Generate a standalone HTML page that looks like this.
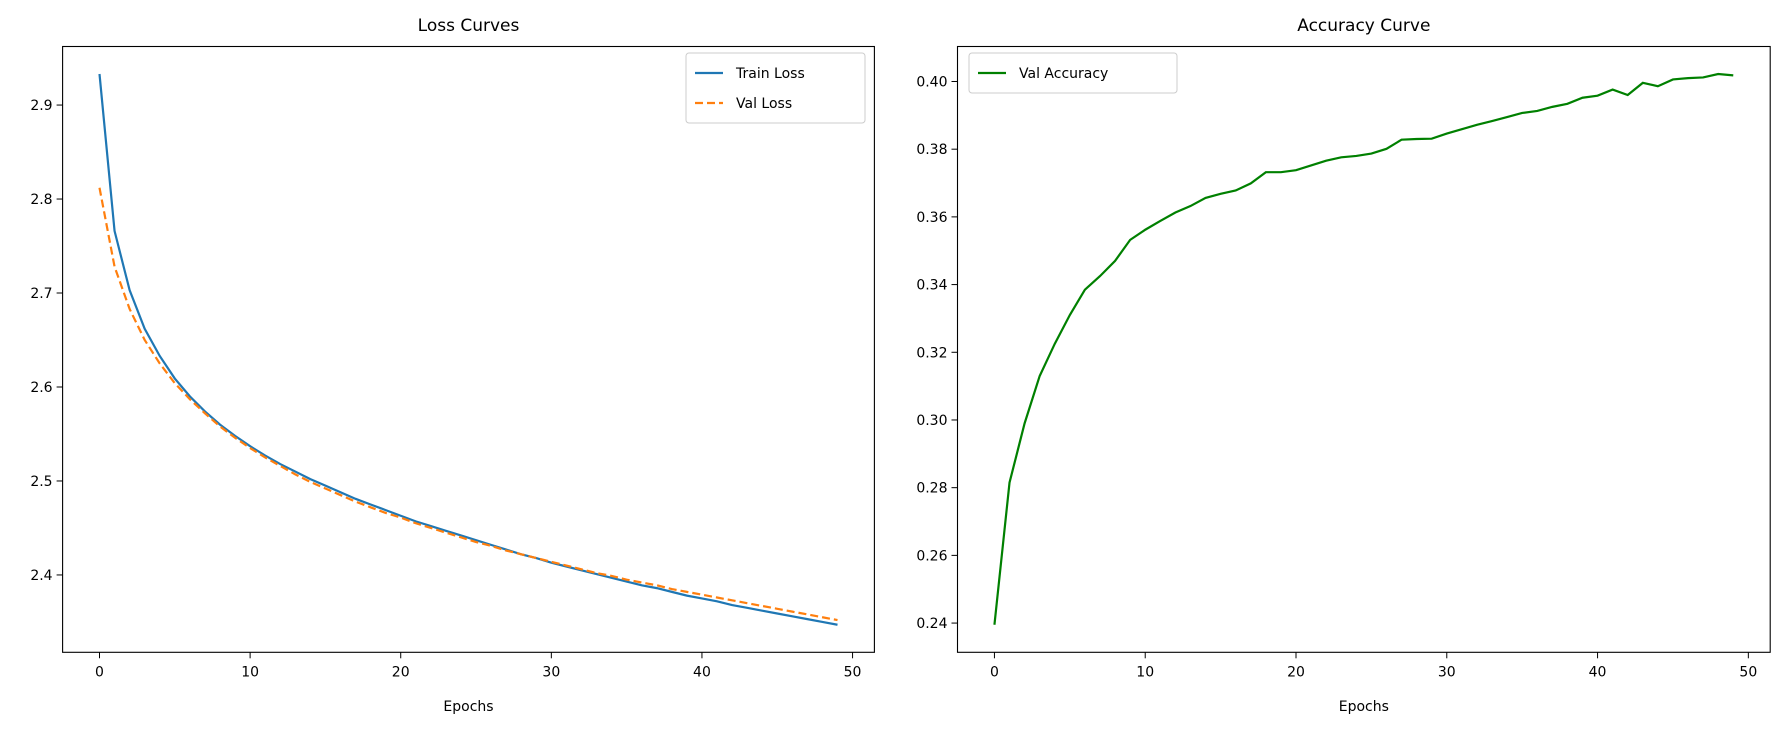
<!DOCTYPE html>
<html><head><meta charset="utf-8"><style>
body{margin:0;background:#fff;font-family:"Liberation Sans","DejaVu Sans",sans-serif}
svg text{font-family:"DejaVu Sans","Liberation Sans",sans-serif;fill:#000}
</style></head><body>
<svg id="fig" width="1785" height="731" xmlns="http://www.w3.org/2000/svg"></svg>
<script>
const epochs = Array.from({length:50},(_,i)=>i);
const trainLoss=[2.933,2.766,2.703,2.662,2.633,2.609,2.590,2.574,2.560,2.548,2.537,2.527,2.518,2.510,2.502,2.495,2.488,2.481,2.475,2.469,2.463,2.457,2.452,2.447,2.442,2.437,2.432,2.427,2.422,2.418,2.413,2.409,2.405,2.401,2.397,2.393,2.389,2.386,2.382,2.378,2.375,2.372,2.368,2.365,2.362,2.359,2.356,2.353,2.350,2.347];
const valLoss=[2.812,2.728,2.683,2.650,2.625,2.604,2.587,2.572,2.558,2.546,2.535,2.525,2.516,2.507,2.499,2.492,2.485,2.478,2.472,2.466,2.461,2.455,2.450,2.445,2.440,2.435,2.431,2.426,2.422,2.418,2.414,2.410,2.406,2.402,2.399,2.395,2.392,2.389,2.385,2.382,2.379,2.376,2.373,2.370,2.367,2.364,2.361,2.358,2.355,2.352];
const valAcc=[0.2395,0.2815,0.299,0.313,0.3225,0.331,0.3385,0.3425,0.347,0.3532,0.3562,0.3588,0.3613,0.3632,0.3656,0.3668,0.3678,0.3699,0.3732,0.3732,0.3738,0.3752,0.3766,0.3776,0.378,0.3787,0.3801,0.3828,0.383,0.3831,0.3846,0.3859,0.3872,0.3883,0.3895,0.3907,0.3913,0.3925,0.3934,0.3952,0.3958,0.3976,0.396,0.3996,0.3986,0.4006,0.401,0.4012,0.4022,0.4018];
const xTicks=[0,10,20,30,40,50];
const lossTicks=[2.4,2.5,2.6,2.7,2.8,2.9];
const accTicks=[0.24,0.26,0.28,0.30,0.32,0.34,0.36,0.38,0.40];

const NS="http://www.w3.org/2000/svg";
const svg=document.getElementById('fig');
function mk(tag,attrs,parent){const e=document.createElementNS(NS,tag);for(const k in attrs)e.setAttribute(k,attrs[k]);(parent||svg).appendChild(e);return e;}
function lim(arrs){const all=[].concat(...arrs);const mn=Math.min(...all),mx=Math.max(...all),m=(mx-mn)*0.05;return [mn-m,mx+m];}

function panel(L,R,T,B,title,series,yTicks,yDec,name){
  const g=mk('g',{});
  
  
  const [y0,y1]=lim(series.map(s=>s.data));
  const x0=-2.45,x1=51.45;
  const sx=v=>L+(v-x0)/(x1-x0)*(R-L);
  const sy=v=>B-(v-y0)/(y1-y0)*(B-T);
  xTicks.forEach(t=>{
    const tk=mk('line',{x1:sx(t),x2:sx(t),y1:B,y2:B+6,stroke:'#000','stroke-width':1},g);
    
    
    const lb=mk('text',{x:sx(t),y:B+24,'text-anchor':'middle','font-size':14},g);
    lb.textContent=t;
    
    
  });
  yTicks.forEach(t=>{
    const tk=mk('line',{x1:L-6,x2:L,y1:sy(t),y2:sy(t),stroke:'#000','stroke-width':1},g);
    
    
    const lb=mk('text',{x:L-10,y:sy(t)+5,'text-anchor':'end','font-size':14},g);
    lb.textContent=t.toFixed(yDec);
    
    
  });
  series.forEach(s=>{
    const p=mk('polyline',{points:s.data.map((v,i)=>sx(epochs[i])+','+sy(v)).join(' '),fill:'none',stroke:s.color,'stroke-width':2.2,'stroke-dasharray':s.dash||'none'},g);
    
    
  });
  const fr=mk('rect',{x:L,y:T,width:R-L,height:B-T,fill:'none',stroke:'#000','stroke-width':1.1},g);
  
  
  const tt=mk('text',{x:(L+R)/2,y:31,'text-anchor':'middle','font-size':17},g);
  tt.textContent=title;
  
  
  const xl=mk('text',{x:(L+R)/2,y:711,'text-anchor':'middle','font-size':14},g);
  xl.textContent='Epochs';
  
  
}
panel(62.6,874.4,46.5,652.3,'Loss Curves',[{data:trainLoss,color:'#1f77b4',name:'train-loss-line'},{data:valLoss,color:'#ff7f0e',dash:'8,4',name:'val-loss-line'}],lossTicks,1,'loss-panel');
panel(957.5,1770.2,46.5,652.3,'Accuracy Curve',[{data:valAcc,color:'#008000',name:'val-accuracy-line'}],accTicks,2,'accuracy-panel');

function legend(x,y,w,entries,name){
  const g=mk('g',{});
  
  
  mk('rect',{x:x,y:y,width:w,height:entries.length*30+10,rx:3,fill:'#fff',stroke:'#ccc','stroke-width':1},g);
  entries.forEach((e,i)=>{
    const cy=y+20+i*30;
    mk('line',{x1:x+9,x2:x+37,y1:cy,y2:cy,stroke:e.c,'stroke-width':2.2,'stroke-dasharray':e.d||'none'},g);
    const t=mk('text',{x:x+50,y:cy+5,'font-size':14},g);
    t.textContent=e.t;
    
    
  });
}
legend(686,53,179,[{t:'Train Loss',c:'#1f77b4'},{t:'Val Loss',c:'#ff7f0e',d:'8,4'}],'loss-legend');
legend(969,53,208,[{t:'Val Accuracy',c:'#008000'}],'accuracy-legend');
</script>
</body></html>
